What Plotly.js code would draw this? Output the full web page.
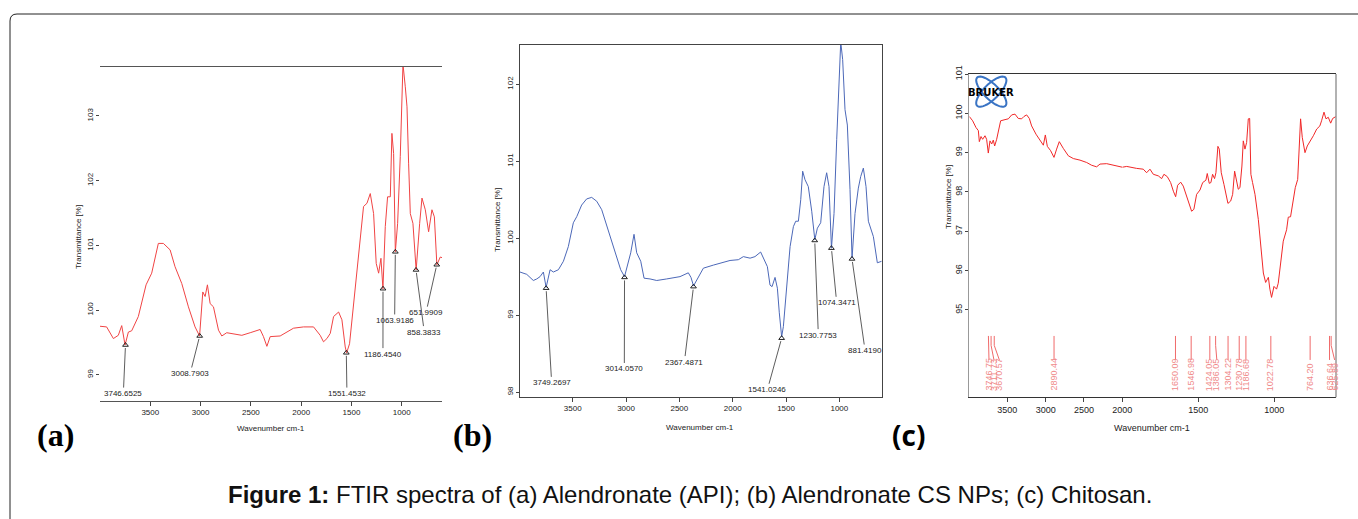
<!DOCTYPE html>
<html>
<head>
<meta charset="utf-8">
<script src="https://cdn.plot.ly/plotly-3.0.1.min.js"></script>
<style>html,body{margin:0;padding:0;background:#fff;}#chart{width:1358px;height:519px;}</style>
</head>
<body>
<div id="chart"></div>
<script>
// ---------- DATA ----------
// (a) Alendronate (API)
const wnA = [4000,3934,3867,3818,3784,3751,3718,3685,3619,3542,3486,3420,3370,3303,3254,3187,3121,3055,3010,2978,2955,2932,2905,2872,2822,2789,2740,2673,2590,2507,2408,2375,2341,2308,2209,2076,1977,1877,1811,1778,1744,1711,1678,1628,1595,1562,1548,1519,1496,1463,1429,1380,1346,1313,1280,1254,1230,1207,1187,1164,1141,1114,1098,1081,1064,1041,1015,998,988,965,948,932,915,889,857,822,799,766,733,700,676,651,617,600];
const tA = [99.75,99.74,99.56,99.61,99.76,99.46,99.66,99.68,99.90,100.39,100.57,101.03,101.03,100.93,100.67,100.41,100.05,99.74,99.60,100.28,100.21,100.39,100.10,100.05,99.69,99.60,99.65,99.63,99.61,99.65,99.70,99.59,99.44,99.59,99.60,99.72,99.74,99.74,99.61,99.51,99.56,99.64,99.90,99.97,99.85,99.43,99.34,99.48,99.85,100.36,100.82,101.60,101.65,101.80,101.49,100.72,100.57,100.80,100.33,101.29,101.75,101.75,102.73,102.42,100.90,101.34,102.37,103.45,103.80,103.45,103.14,102.27,101.49,101.34,100.62,101.34,101.73,101.55,101.21,101.55,101.44,100.70,100.82,100.81];
const peakLabelsA = ["3746.6525","3008.7903","1551.4532","1186.4540","1063.9186","858.3833","651.9909"];
const peakWnA = [3746.65,3008.79,1551.45,1186.45,1063.92,858.38,651.99];
const peakTA = [99.46,99.60,99.34,100.33,100.90,100.62,100.70];

// (b) Alendronate CS NPs
const wnB = [3994,3931,3869,3837,3806,3775,3749,3712,3681,3634,3587,3541,3494,3462,3416,3369,3322,3275,3228,3181,3134,3087,3050,3014,2984,2956,2925,2900,2862,2831,2775,2712,2619,2494,2416,2391,2367,2337,2275,2181,2025,1947,1900,1837,1791,1738,1713,1675,1650,1631,1603,1581,1563,1541,1525,1500,1462,1431,1409,1384,1362,1344,1322,1291,1259,1230,1206,1175,1144,1119,1097,1074,1050,1025,1000,987,969,947,925,900,881,853,822,800,775,750,728,681,644,603];
const tB = [99.56,99.53,99.45,99.47,99.50,99.56,99.36,99.59,99.56,99.59,99.70,99.89,100.20,100.28,100.43,100.51,100.53,100.48,100.37,100.17,99.96,99.76,99.59,99.50,99.68,99.81,100.05,99.81,99.70,99.48,99.47,99.45,99.47,99.50,99.55,99.49,99.38,99.46,99.61,99.65,99.71,99.72,99.76,99.74,99.76,99.82,99.74,99.63,99.39,99.37,99.49,99.35,99.03,98.72,98.85,99.24,99.89,100.15,100.22,100.22,100.50,100.87,100.76,100.67,100.35,99.98,100.13,100.20,100.67,100.85,100.67,99.87,100.32,101.28,102.32,102.55,102.32,101.67,101.47,100.63,99.74,100.32,100.65,100.80,100.91,100.67,100.22,100.02,99.68,99.70];
const peakLabelsB = ["3749.2697","3014.0570","2367.4871","1541.0246","1230.7753","1074.3471","881.4190"];
const peakWnB = [3749.27,3014.06,2367.49,1541.02,1230.78,1074.35,881.42];
const peakTB = [99.35,99.49,99.37,98.70,99.97,99.87,99.73];

// (c) Chitosan
const wnC = [3996,3952,3909,3878,3865,3843,3822,3791,3770,3748,3726,3704,3683,3665,3639,3617,3587,3530,3487,3443,3400,3357,3313,3283,3248,3213,3183,3126,3074,3030,3004,2978,2935,2891,2857,2822,2770,2704,2639,2552,2465,2400,2335,2291,2204,2117,2030,2000,1971,1906,1862,1840,1818,1796,1763,1741,1726,1704,1682,1664,1649,1636,1616,1599,1577,1559,1544,1529,1511,1489,1471,1450,1441,1428,1417,1406,1393,1384,1371,1362,1349,1331,1318,1305,1287,1274,1261,1252,1237,1226,1213,1204,1193,1182,1171,1162,1154,1143,1127,1105,1090,1072,1057,1039,1029,1018,1002,985,974,958,941,919,908,893,875,862,846,838,827,816,798,783,765,743,721,700,689,673,660,645,629,616,594];
const tC = [99.92,99.81,99.64,99.56,99.28,99.41,99.34,99.43,99.34,98.99,99.30,99.22,99.32,99.17,99.34,99.56,99.81,99.84,99.86,99.96,99.98,99.87,99.86,99.92,99.96,99.87,99.68,99.47,99.30,99.19,99.45,99.16,99.05,98.88,99.09,99.28,99.11,98.92,98.85,98.81,98.75,98.68,98.64,98.71,98.72,98.68,98.64,98.63,98.65,98.60,98.58,98.49,98.58,98.45,98.41,98.34,98.45,98.39,98.24,98.02,97.88,98.17,98.25,98.15,97.90,97.64,97.51,97.56,97.94,98.05,98.24,98.30,98.47,98.22,98.24,98.45,98.34,98.49,99.16,99.09,98.49,98.19,97.90,97.71,97.77,97.94,98.53,98.32,98.07,98.11,98.66,99.30,99.09,99.26,99.86,99.87,98.45,98.24,97.94,97.30,96.62,95.94,95.70,95.83,95.53,95.32,95.60,95.53,95.68,96.28,96.75,97.04,97.36,97.37,97.81,98.11,98.32,98.96,99.86,99.39,99.00,99.17,99.28,99.43,99.60,99.68,99.81,100.03,99.86,99.90,99.75,99.87,99.92];
const peakLabelsC = ["3746.75","3711.73","3670.57","2890.44","1650.09","1546.98","1424.05","1386.05","1304.22","1230.78","1186.68","1022.78","764.20","636.64","625.89"];
const peakWnC = [3746.75,3711.73,3670.57,2890.44,1650.09,1546.98,1424.05,1386.05,1304.22,1230.78,1186.68,1022.78,764.20,636.64,625.89];

const xTicksAB = [3500,3000,2500,2000,1500,1000];
const yTicksA = [99,100,101,102,103];
const yTicksB = [98,99,100,101,102];
const xTicksC1 = [3500,3000,2500];
const xTicksC2 = [2000,1500,1000];
const yTicksC = [95,96,97,98,99,100,101];

// ---------- LAYOUT HELPERS (positions, not data) ----------
const W = 1358, H = 519;
const px = x => x / W;
const py = y => 1 - y / H;
// label text anchor positions for peak callouts (axis units)
const labelPosA = [[3768,98.71],[3104,99.02],[1545,98.71],[1187,99.32],[1071,99.84],[776,99.66],[759,99.96]];
const labelPosB = [[3697,98.12],[3016,98.30],[2453,98.39],[1675,98.03],[1197,98.74],[1025,99.16],[759,98.54]];
const labelShiftC = [3739,3674,3604,null,null,null,null,1378,null,null,null,null,null,null,603];
const cLineTop = 94.34, cLineBend = 94.10, cLineBot = 93.73, cLabelBot = 92.89;

const NARROW = "Liberation Sans Narrow, Arial Narrow, Liberation Sans, Arial, sans-serif";
const tickFont = {family: NARROW, size: 8, color: '#222'};

function xAx(domain, range, ticks, anchor, lineColor) {
  return {domain, range, anchor, tickmode: 'array', tickvals: ticks, ticktext: ticks.map(String),
    ticks: 'outside', ticklen: 4, tickwidth: 1, tickcolor: '#444', showline: true, mirror: true,
    linecolor: lineColor, linewidth: 1, showgrid: false, zeroline: false, tickfont: tickFont, fixedrange: true};
}
function yAx(domain, range, ticks, anchor, showline, lineColor) {
  return {domain, range, anchor, tickmode: 'array', tickvals: ticks, ticktext: ticks.map(String),
    tickangle: -90, ticks: 'outside', ticklen: 3, tickwidth: 1, tickcolor: '#444',
    showline, mirror: showline, linecolor: lineColor, linewidth: 1, showgrid: false, zeroline: false,
    tickfont: tickFont, fixedrange: true};
}

const traces = [];
traces.push({x: wnA, y: tA, xaxis: 'x', yaxis: 'y', mode: 'lines', line: {color: '#f04444', width: 1}, hoverinfo: 'skip'});
traces.push({x: wnB, y: tB, xaxis: 'x2', yaxis: 'y2', mode: 'lines', line: {color: '#4c68b8', width: 1}, hoverinfo: 'skip'});
// (c) split at 2000 cm-1 (scale change)
const c1x = [], c1y = [], c2x = [], c2y = [];
wnC.forEach((w, i) => { if (w >= 2000) { c1x.push(w); c1y.push(tC[i]); } if (w <= 2000) { c2x.push(w); c2y.push(tC[i]); } });
traces.push({x: c1x, y: c1y, xaxis: 'x3', yaxis: 'y3', mode: 'lines', line: {color: '#f02828', width: 1}, hoverinfo: 'skip'});
traces.push({x: c2x, y: c2y, xaxis: 'x4', yaxis: 'y3', mode: 'lines', line: {color: '#f02828', width: 1}, hoverinfo: 'skip'});
// peak markers
traces.push({x: peakWnA, y: peakTA, xaxis: 'x', yaxis: 'y', mode: 'markers', marker: {symbol: 'triangle-up-open', size: 5, color: '#222', line: {width: 1}}, hoverinfo: 'skip'});
traces.push({x: peakWnB, y: peakTB, xaxis: 'x2', yaxis: 'y2', mode: 'markers', marker: {symbol: 'triangle-up-open', size: 5, color: '#222', line: {width: 1}}, hoverinfo: 'skip'});
// (c) peak tick lines
const pl1x = [], pl1y = [], pl2x = [], pl2y = [];
peakWnC.forEach((w, i) => {
  const lx = labelShiftC[i] == null ? w : labelShiftC[i];
  const xs = [w, w, lx, null], ys = [cLineTop, cLineBend, cLineBot, null];
  if (w > 2000) { pl1x.push(...xs); pl1y.push(...ys); } else { pl2x.push(...xs); pl2y.push(...ys); }
});
traces.push({x: pl1x, y: pl1y, xaxis: 'x3', yaxis: 'y3', mode: 'lines', line: {color: '#f06a6a', width: 1}, hoverinfo: 'skip', cliponaxis: false});
traces.push({x: pl2x, y: pl2y, xaxis: 'x4', yaxis: 'y3', mode: 'lines', line: {color: '#f06a6a', width: 1}, hoverinfo: 'skip', cliponaxis: false});

const annotations = [];
function paperText(text, x, y, font, extra) {
  annotations.push(Object.assign({text, x: px(x), y: py(y), xref: 'paper', yref: 'paper', showarrow: false,
    xanchor: 'center', yanchor: 'middle', font}, extra || {}));
}
const titleFont = {family: NARROW, size: 8, color: '#222'};
paperText('Transmittance [%]', 79, 237, titleFont, {textangle: -90});
paperText('Wavenumber cm-1', 271, 428, titleFont);
paperText('Transmittance [%]', 497, 220, titleFont, {textangle: -90});
paperText('Wavenumber cm-1', 700, 427, titleFont);
paperText('Transmittance [%]', 948, 197, titleFont, {textangle: -90});
paperText('Wavenumber cm-1', 1152, 428, {family: NARROW, size: 9, color: '#222'});
paperText('(a)', 55, 435, {family: 'Liberation Serif, Times New Roman, serif', size: 32, color: '#000'}, {text: '<b>(a)</b>'});
paperText('(b)', 472, 435, {family: 'Liberation Serif, Times New Roman, serif', size: 32, color: '#000'}, {text: '<b>(b)</b>'});
paperText('(c)', 909, 435, {family: 'Open Sans, Liberation Sans, sans-serif', size: 28, color: '#000'}, {text: '<b>(c)</b>'});
paperText('<b>Figure 1:</b> FTIR spectra of (a) Alendronate (API); (b) Alendronate CS NPs; (c) Chitosan.', 690, 494,
  {family: 'Liberation Sans, Arial, sans-serif', size: 24, color: '#111'});
paperText('<b>BRUKER</b>', 991, 92, {family: 'DejaVu Sans, sans-serif', size: 10, color: '#000'});

const peakFont = {family: NARROW, size: 8, color: '#222'};
function callouts(labels, wn, t, pos, xr, yr) {
  labels.forEach((lab, i) => {
    annotations.push({text: lab, x: wn[i], y: t[i], xref: xr, yref: yr, axref: xr, ayref: yr,
      ax: pos[i][0], ay: pos[i][1], showarrow: true, arrowhead: 0, arrowwidth: 0.8, arrowcolor: '#333',
      standoff: 3, font: peakFont});
  });
}
callouts(peakLabelsA, peakWnA, peakTA, labelPosA, 'x', 'y');
callouts(peakLabelsB, peakWnB, peakTB, labelPosB, 'x2', 'y2');
peakLabelsC.forEach((lab, i) => {
  const w = peakWnC[i];
  const lx = labelShiftC[i] == null ? w : labelShiftC[i];
  annotations.push({text: lab, x: lx, y: cLabelBot, xref: w > 2000 ? 'x3' : 'x4', yref: 'y3', showarrow: false,
    textangle: -90, xanchor: 'center', yanchor: 'bottom', font: {family: NARROW, size: 9, color: '#f08a8a'}});
});

// shapes: figure frame, (c) right edge, Bruker logo
const shapes = [];
const r = 7;
shapes.push({type: 'path', xref: 'paper', yref: 'paper',
  path: `M ${px(10)},${py(560)} L ${px(10)},${py(14 + r)} Q ${px(10)},${py(14)} ${px(10 + r)},${py(14)} L ${px(1400)},${py(14)}`,
  line: {color: '#222', width: 1}});
shapes.push({type: 'line', xref: 'paper', yref: 'paper', x0: px(1336), x1: px(1336), y0: py(397.3), y1: py(74),
  line: {color: '#999', width: 1.5}});
function ellipsePath(cx, cy, a, b, ang) {
  let d = '';
  for (let k = 0; k <= 48; k++) {
    const th = 2 * Math.PI * k / 48;
    const ex = a * Math.cos(th), ey = b * Math.sin(th);
    const X = cx + ex * Math.cos(ang) - ey * Math.sin(ang);
    const Y = cy + ex * Math.sin(ang) + ey * Math.cos(ang);
    d += (k === 0 ? 'M ' : ' L ') + px(X) + ',' + py(Y);
  }
  return d + ' Z';
}
shapes.push({type: 'path', xref: 'paper', yref: 'paper', path: ellipsePath(991.3, 91.7, 20, 7.5, Math.PI / 4), line: {color: '#3a74c4', width: 2}});
shapes.push({type: 'path', xref: 'paper', yref: 'paper', path: ellipsePath(991.3, 91.7, 20, 7.5, -Math.PI / 4), line: {color: '#3a74c4', width: 2}});

const layout = {
  width: W, height: H, margin: {l: 0, r: 0, t: 0, b: 0},
  paper_bgcolor: '#fff', plot_bgcolor: 'rgba(0,0,0,0)', showlegend: false, hovermode: false,
  font: {family: NARROW, size: 8, color: '#222'},
  xaxis: xAx([px(100), px(442)], [4000, 600], xTicksAB, 'y', '#555'),
  yaxis: yAx([py(400.7), py(66.7)], [98.60, 103.76], yTicksA, 'x', false, '#444'),
  xaxis2: xAx([px(520), px(881.7)], [3994, 603], xTicksAB, 'y2', '#444'),
  yaxis2: yAx([py(396.7), py(45)], [97.94, 102.51], yTicksB, 'x2', true, '#444'),
  xaxis3: xAx([px(969.3), px(1122.3)], [3996, 2000], xTicksC1, 'y3', '#333'),
  xaxis4: xAx([px(1122.3), px(1336)], [2000, 594], xTicksC2, 'y3', '#333'),
  yaxis3: yAx([py(397.3), py(74)], [92.78, 101], yTicksC, 'x3', true, '#999'),
  annotations, shapes
};
layout.xaxis3.tickfont = {family: NARROW, size: 9, color: '#222'};
layout.xaxis4.tickfont = {family: NARROW, size: 9, color: '#222'};
layout.yaxis3.tickfont = {family: NARROW, size: 9, color: '#222'};
layout.yaxis3.mirror = false;

Plotly.newPlot('chart', traces, layout, {staticPlot: true, displayModeBar: false});
</script>
</body>
</html>
